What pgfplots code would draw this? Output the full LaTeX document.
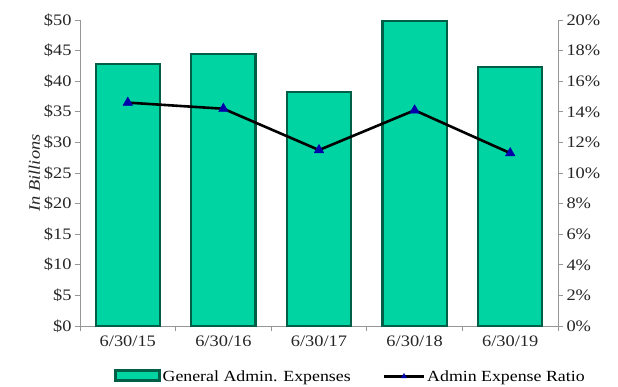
\documentclass[border=0pt]{standalone}
\usepackage{pgfplots}
\pgfplotsset{compat=1.18}
\usetikzlibrary{shapes.geometric}
\usepackage{fontspec}
\setmainfont{Liberation Serif}[FakeStretch=1.15]
\definecolor{barfill}{RGB}{0,212,162}
\definecolor{baredge}{RGB}{0,95,70}
\definecolor{axgray}{RGB}{150,150,150}
\definecolor{mkblue}{RGB}{0,0,170}
\begin{document}
\begin{tikzpicture}
\begin{axis}[
  at={(0,0)}, anchor=south west,
  scale only axis, width=478bp, height=306bp,
  xmin=-0.5, xmax=4.5, ymin=0, ymax=50,
  axis y line*=left, axis x line*=bottom,
  axis line style={axgray, line width=0.8bp, -},
  tick align=outside, tick style={axgray, line width=0.8bp},
  major tick length=5bp,
  xtick={-0.5,0.5,...,4.5}, xticklabels={},
  extra x ticks={0,1,2,3,4},
  extra x tick labels={6/30/15,6/30/16,6/30/17,6/30/18,6/30/19},
  extra x tick style={major tick length=0pt, tick label style={yshift=-6bp}},
  ytick={0,5,...,50},
  yticklabel={\$\pgfmathprintnumber{\tick}},
  /pgf/number format/assume math mode=true,
  tick label style={font=\fontsize{16bp}{18bp}\selectfont, black!85},
  ylabel={\textit{In Billions}},
  ylabel style={font=\fontsize{16bp}{18bp}\selectfont, black!85, yshift=-3bp},
  legend style={at={(axis description cs:0.566,-0.165)}, anchor=center, draw=none,
    legend columns=2, font=\fontsize{15.5bp}{17bp}\selectfont,
    /tikz/every even column/.append style={column sep=30bp}},
  legend image code/.code={\draw[#1] (0bp,-4bp) rectangle (44bp,6bp);},
]
\addplot[ybar, bar width=0.67, fill=barfill, draw=baredge, line width=2.2bp]
  coordinates {(0,42.8) (1,44.4) (2,38.3) (3,49.8) (4,42.3)};
\addlegendentry{General Admin. Expenses}
\addlegendimage{legend image code/.code={
   \draw[black, line width=2.5bp] (4bp,0bp) -- (44bp,0bp);
   \node[mkblue, fill=mkblue, regular polygon, regular polygon sides=3, inner sep=0pt, minimum size=7bp] at (24bp,0bp) {};}}
\addlegendentry{Admin Expense Ratio}
\end{axis}
\begin{axis}[
  at={(0,0)}, anchor=south west,
  scale only axis, width=478bp, height=306bp,
  xmin=-0.5, xmax=4.5, ymin=0, ymax=20,
  axis y line*=right, axis x line=none,
  axis line style={axgray, line width=0.8bp, -},
  tick align=outside, tick style={axgray, line width=0.8bp},
  major tick length=5bp,
  ytick={0,2,...,20},
  yticklabel={\pgfmathprintnumber{\tick}\%},
  /pgf/number format/assume math mode=true,
  tick label style={font=\fontsize{16bp}{18bp}\selectfont, black!85},
]
\addplot[black, line width=2.6bp, mark=triangle*, mark size=5.5bp,
  mark options={fill=mkblue, draw=mkblue, line width=0.5bp}]
  coordinates {(0,14.6) (1,14.2) (2,11.5) (3,14.1) (4,11.3)};
\end{axis}
\pgfresetboundingbox
\path (-80bp,-61bp) rectangle (538bp,326bp);
\end{tikzpicture}
\end{document}
